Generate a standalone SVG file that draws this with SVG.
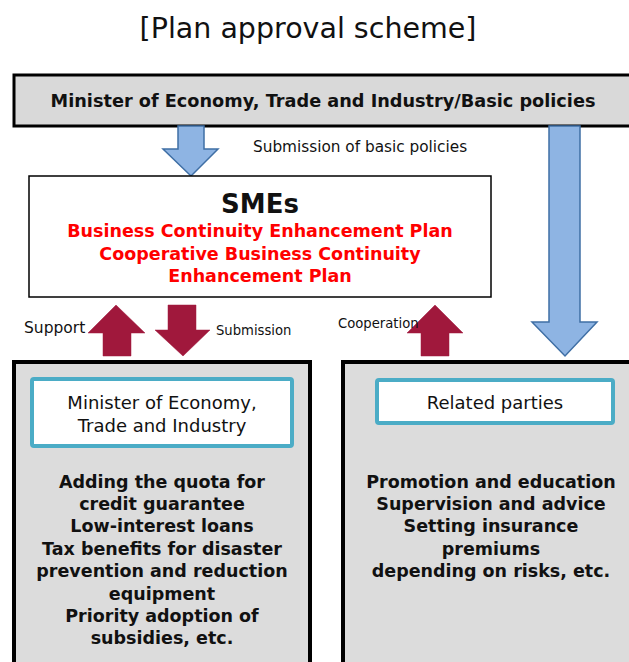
<svg xmlns="http://www.w3.org/2000/svg" width="629" height="662" viewBox="0 0 629 662">
<style>
text{font-family:"DejaVu Sans","Liberation Sans",sans-serif;fill:#111}
.c{text-anchor:middle}
.b{font-weight:bold}
.red{fill:#ff0000}
.blue{fill:#8eb4e3;stroke:#3f6fa5;stroke-width:1.5}
.mar{fill:#a0183c;stroke:#a0183c;stroke-width:0.5}
.outer{fill:#dcdcdc;stroke:#000;stroke-width:4}
.inner{fill:#fff;stroke:#4bacc6;stroke-width:4}
.body{font-size:17.5px;font-weight:bold}
.lbl{font-size:18px}
</style>
<rect width="629" height="662" fill="#fff"/>
<text class="c" x="308" y="38" font-size="28.5">[Plan approval scheme]</text>

<g id="top">
<rect x="14" y="75" width="630" height="51" fill="#d9d9d9" stroke="#000" stroke-width="3"/>
<text class="c b" x="323" y="107" font-size="17.7">Minister of Economy, Trade and Industry/Basic policies</text>
</g>

<g id="connectors">
<polygon class="blue" points="178,126 204,126 204,149 218,149 191,176 163,149 178,149"/>
<polygon class="blue" points="549,126 580,126 580,322 597,322 565,356 532,322 549,322"/>
<polygon class="mar" points="103,356 131,356 131,333 145,333 116,305 88,333 103,333"/>
<polygon class="mar" points="168,305 196,305 196,330 210,330 183,356 155,330 168,330"/>
<polygon class="mar" points="421,356 449,356 449,333 463,333 435,305 407,333 421,333"/>
<text x="253" y="152" font-size="15.3">Submission of basic policies</text>
<text x="24" y="333" font-size="15.5">Support</text>
<text x="216" y="335" font-size="13.2">Submission</text>
<text x="338" y="328" font-size="13.2">Cooperation</text>
</g>

<g id="smes">
<rect x="29" y="176" width="462" height="121" fill="#fff" stroke="#000" stroke-width="1.5"/>
<text class="c b" x="260" y="213" font-size="26">SMEs</text>
<text class="c b red" x="260" y="237" font-size="17.5">Business Continuity Enhancement Plan</text>
<text class="c b red" x="260" y="260" font-size="17.5">Cooperative Business Continuity</text>
<text class="c b red" x="260" y="282" font-size="17.5">Enhancement Plan</text>
</g>

<g id="meti">
<rect class="outer" x="14" y="362" width="296" height="310"/>
<rect class="inner" x="32" y="379" width="260" height="67" rx="2"/>
<text class="c lbl" x="162" y="409">Minister of Economy,</text>
<text class="c lbl" x="162" y="432">Trade and Industry</text>
<text class="c body" x="162" y="488">Adding the quota for</text>
<text class="c body" x="162" y="510">credit guarantee</text>
<text class="c body" x="162" y="532">Low-interest loans</text>
<text class="c body" x="162" y="555">Tax benefits for disaster</text>
<text class="c body" x="162" y="577">prevention and reduction</text>
<text class="c body" x="162" y="600">equipment</text>
<text class="c body" x="162" y="622">Priority adoption of</text>
<text class="c body" x="162" y="644">subsidies, etc.</text>
</g>

<g id="related">
<rect class="outer" x="343" y="362" width="300" height="310"/>
<rect class="inner" x="377" y="380" width="236" height="43" rx="2"/>
<text class="c lbl" x="495" y="409">Related parties</text>
<text class="c body" x="491" y="488">Promotion and education</text>
<text class="c body" x="491" y="510">Supervision and advice</text>
<text class="c body" x="491" y="532">Setting insurance</text>
<text class="c body" x="491" y="555">premiums</text>
<text class="c body" x="491" y="577">depending on risks, etc.</text>
</g>
</svg>
